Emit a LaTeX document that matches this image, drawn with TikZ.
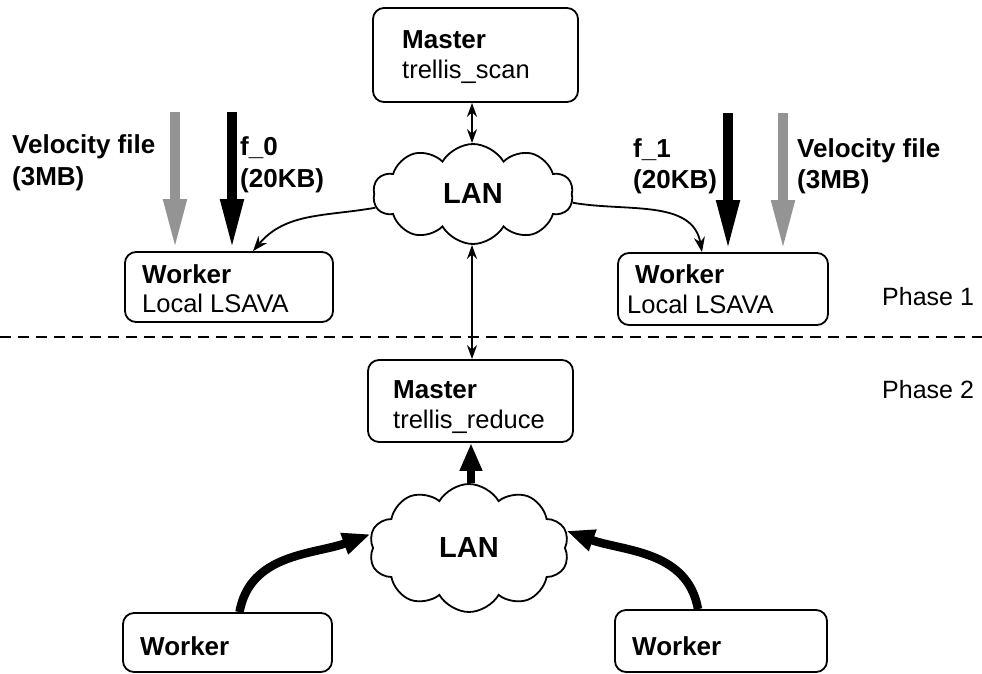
\documentclass[tikz,border=0pt]{standalone}
\usepackage{fontspec}
\setmainfont{Liberation Sans}
\usetikzlibrary{arrows.meta,shapes.symbols}

\tikzset{
  box/.style={draw, line width=1.8pt, rounded corners=11pt, inner sep=0pt},
  head/.style={font=\bfseries\fontsize{26}{30}\selectfont, anchor=base west, inner sep=0pt},
  sub/.style={font=\fontsize{25.5}{30}\selectfont, anchor=base west, inner sep=0pt},
  phase/.style={font=\fontsize{25}{30}\selectfont, anchor=base west, inner sep=0pt},
  lan/.style={cloud, draw, line width=1.8pt, cloud puffs=10, cloud puff arc=120,
    cloud ignores aspect, inner sep=0pt,
    font=\bfseries\fontsize{29}{32}\selectfont},
  thin link/.style={line width=1.8pt, {Stealth[length=14pt,width=10pt]}-{Stealth[length=14pt,width=10pt]}},
  curve link/.style={line width=1.8pt, -{Stealth[length=15pt,width=11pt]}},
  file arrow/.style={line width=10pt, -{Triangle[length=52pt,width=21pt]}},
  big file/.style={file arrow, draw=black!42},
  small file/.style={file arrow, draw=black},
  fat link/.style={line width=8.5pt, -{Triangle[length=28pt,width=21pt]}},
}

\begin{document}
\begin{tikzpicture}[x=1pt,y=-1pt]
\useasboundingbox (0,0) rectangle (982,673);

% ---------- Phase 1 ----------
\node[box, minimum width=205pt, minimum height=94pt] (m1) at (475.5,55) {};
\node[head] (m1a) at (402,48) {Master};
\node[sub]  (m1b) at (402,78) {trellis\_scan};

\node[lan, minimum width=200pt, minimum height=100pt] (lan1) at (473,194) {LAN};

\node[box, minimum width=208pt, minimum height=70pt] (w1) at (229,287) {};
\node[head] (w1a) at (142,283) {Worker};
\node[sub]  (w1b) at (142,312) {Local LSAVA};

\node[box, minimum width=210pt, minimum height=72pt] (w2) at (723,289) {};
\node[head] (w2a) at (635,283) {Worker};
\node[sub]  (w2b) at (627,313) {Local LSAVA};

% input files fed to the workers
\coordinate (v0) at (175,112);
\coordinate (f0) at (232,112);
\coordinate (f1) at (728,113);
\coordinate (v1) at (783,113);
\draw[big file]   (v0) -- (v0 |- w1.north);
\draw[small file] (f0) -- (f0 |- w1.north);
\draw[small file] (f1) -- (f1 |- w2.north);
\draw[big file]   (v1) -- (v1 |- w2.north);

\node[head] (v0a) at (12,153) {Velocity file};
\node[head] (v0b) at (12,185) {(3MB)};
\node[head] (f0a) at (240,155) {f\_0};
\node[head] (f0b) at (240,187) {(20KB)};
\node[head] (f1a) at (633,157) {f\_1};
\node[head] (f1b) at (633,188) {(20KB)};
\node[head] (v1a) at (797,157) {Velocity file};
\node[head] (v1b) at (797,188) {(3MB)};

\draw[thin link] (lan1.north -| 472,0) -- (m1.south -| 472,0);
\draw[curve link] (lan1.188) to[out=190,in=50] ([xshift=24pt]w1.north);
\draw[curve link] (lan1.355) to[out=-10,in=100] ([xshift=-21pt]w2.north);

\node[phase] (p1) at (882,305) {Phase 1};

% ---------- phase separator ----------
\coordinate (sepl) at (0,337);
\coordinate (sepr) at (982,337);
\draw[line width=1.8pt, dash pattern=on 11pt off 7pt] (sepl) -- (sepr);

% ---------- Phase 2 ----------
\node[box, minimum width=205pt, minimum height=82pt] (m2) at (470.5,401) {};
\node[head] (m2a) at (393,398) {Master};
\node[sub]  (m2b) at (393,428) {trellis\_reduce};

\draw[thin link] (lan1.south -| 472,0) -- (m2.north -| 472,0);

\node[phase] (p2) at (882,398) {Phase 2};

\node[lan, minimum width=200pt, minimum height=128pt] (lan2) at (469,548) {LAN};

\node[box, minimum width=209pt, minimum height=59pt] (wb1) at (227.5,642.5) {};
\node[head] (wb1a) at (140,655) {Worker};
\node[box, minimum width=212pt, minimum height=62pt] (wb2) at (721,641) {};
\node[head] (wb2a) at (632,655) {Worker};

\draw[fat link] (lan2.north -| 471,0) -- (m2.south -| 471,0);
\draw[fat link] ([xshift=12pt]wb1.north) to[out=80,in=200] (lan2.172);
\draw[fat link] ([xshift=-23pt]wb2.north) to[out=100,in=-20] (lan2.10);
\end{tikzpicture}
\end{document}
